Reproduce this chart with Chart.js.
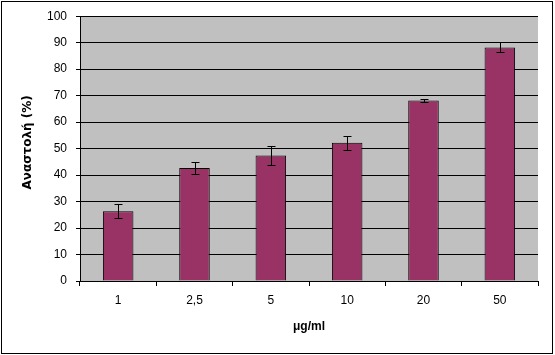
<!DOCTYPE html>
<html>
<head>
<meta charset="utf-8">
<script src="https://cdn.jsdelivr.net/npm/chart.js@4"></script>
<style>
  html, body { margin: 0; padding: 0; background: #fff; }
  canvas { display: block; }
</style>
</head>
<body>
<canvas id="chart" width="555" height="355"></canvas>
<script>
const categories = ['1', '2,5', '5', '10', '20', '50'];
const inhibition = [26.3, 42.7, 47.4, 52.2, 68.2, 88.2];
const errors = [2.6, 2.3, 3.5, 2.6, 0.7, 1.9];
const yTicks = [0, 10, 20, 30, 40, 50, 60, 70, 80, 90, 100];

// gray plot area + outer frame
const frame = {
    id: 'frame',
    beforeDraw(chart) {
        const { ctx, chartArea: a } = chart;
        ctx.save();
        ctx.fillStyle = '#C0C0C0';
        ctx.fillRect(a.left, a.top, a.right - a.left, a.bottom - a.top);
        ctx.restore();
    },
    afterDraw(chart) {
        const ctx = chart.ctx;
        ctx.save();
        ctx.strokeStyle = '#000';
        ctx.lineWidth = 1;
        ctx.strokeRect(1.5, 1.5, 551, 352);
        ctx.restore();
    }
};

// error bars drawn from the errors array through the y scale
const errorBars = {
    id: 'errorBars',
    afterDatasetsDraw(chart) {
        const { ctx } = chart;
        const y = chart.scales.y;
        const meta = chart.getDatasetMeta(0);
        ctx.save();
        ctx.strokeStyle = '#000';
        ctx.lineWidth = 1;
        meta.data.forEach((bar, i) => {
            const x = Math.round(bar.x) + 0.5;
            const top = Math.round(y.getPixelForValue(inhibition[i] + errors[i])) + 0.5;
            const bot = Math.round(y.getPixelForValue(inhibition[i] - errors[i])) + 0.5;
            ctx.beginPath();
            ctx.moveTo(x, top); ctx.lineTo(x, bot);
            ctx.moveTo(x - 4, top); ctx.lineTo(x + 4, top);
            ctx.moveTo(x - 4, bot); ctx.lineTo(x + 4, bot);
            ctx.stroke();
        });
        ctx.restore();
    }
};

new Chart(document.getElementById('chart'), {
    type: 'bar',
    data: {
        labels: categories,
        datasets: [{
            data: inhibition,
            backgroundColor: '#993366',
            borderColor: '#000',
            borderWidth: 1,
            barPercentage: 0.4,
            categoryPercentage: 1,
        }]
    },
    options: {
        responsive: false,
        animation: false,
        layout: { padding: { top: 15, right: 17, left: 0, bottom: 0 } },
        plugins: { legend: { display: false }, tooltip: { enabled: false } },
        scales: {
            x: {
                afterFit: s => { s.height = 74; },
                grid: { drawOnChartArea: false, drawTicks: true, tickLength: 5, color: '#000', offset: true },
                border: { color: '#000' },
                ticks: { color: '#000', padding: 7, font: { family: 'Liberation Sans, Arial', size: 12 } },
                title: {
                    display: true, text: 'μg/ml', color: '#000',
                    font: { family: 'Liberation Sans, Arial', size: 12, weight: 'bold' },
                    padding: { top: 0, bottom: 21 }
                }
            },
            y: {
                min: 0, max: 100,
                afterFit: s => { s.width = 80; },
                afterBuildTicks: s => { s.ticks = yTicks.map(v => ({ value: v })); },
                grid: { color: '#000', tickLength: 4 },
                border: { color: '#000' },
                ticks: { color: '#000', padding: 9, font: { family: 'Liberation Sans, Arial', size: 12 } },
                title: {
                    display: true, text: '   Αναστολή (%)', color: '#000',
                    font: { family: 'DejaVu Sans', size: 12, weight: 'bold' },
                    padding: { top: 21, bottom: 0 }
                }
            }
        }
    },
    plugins: [frame, errorBars]
});
</script>
</body>
</html>
